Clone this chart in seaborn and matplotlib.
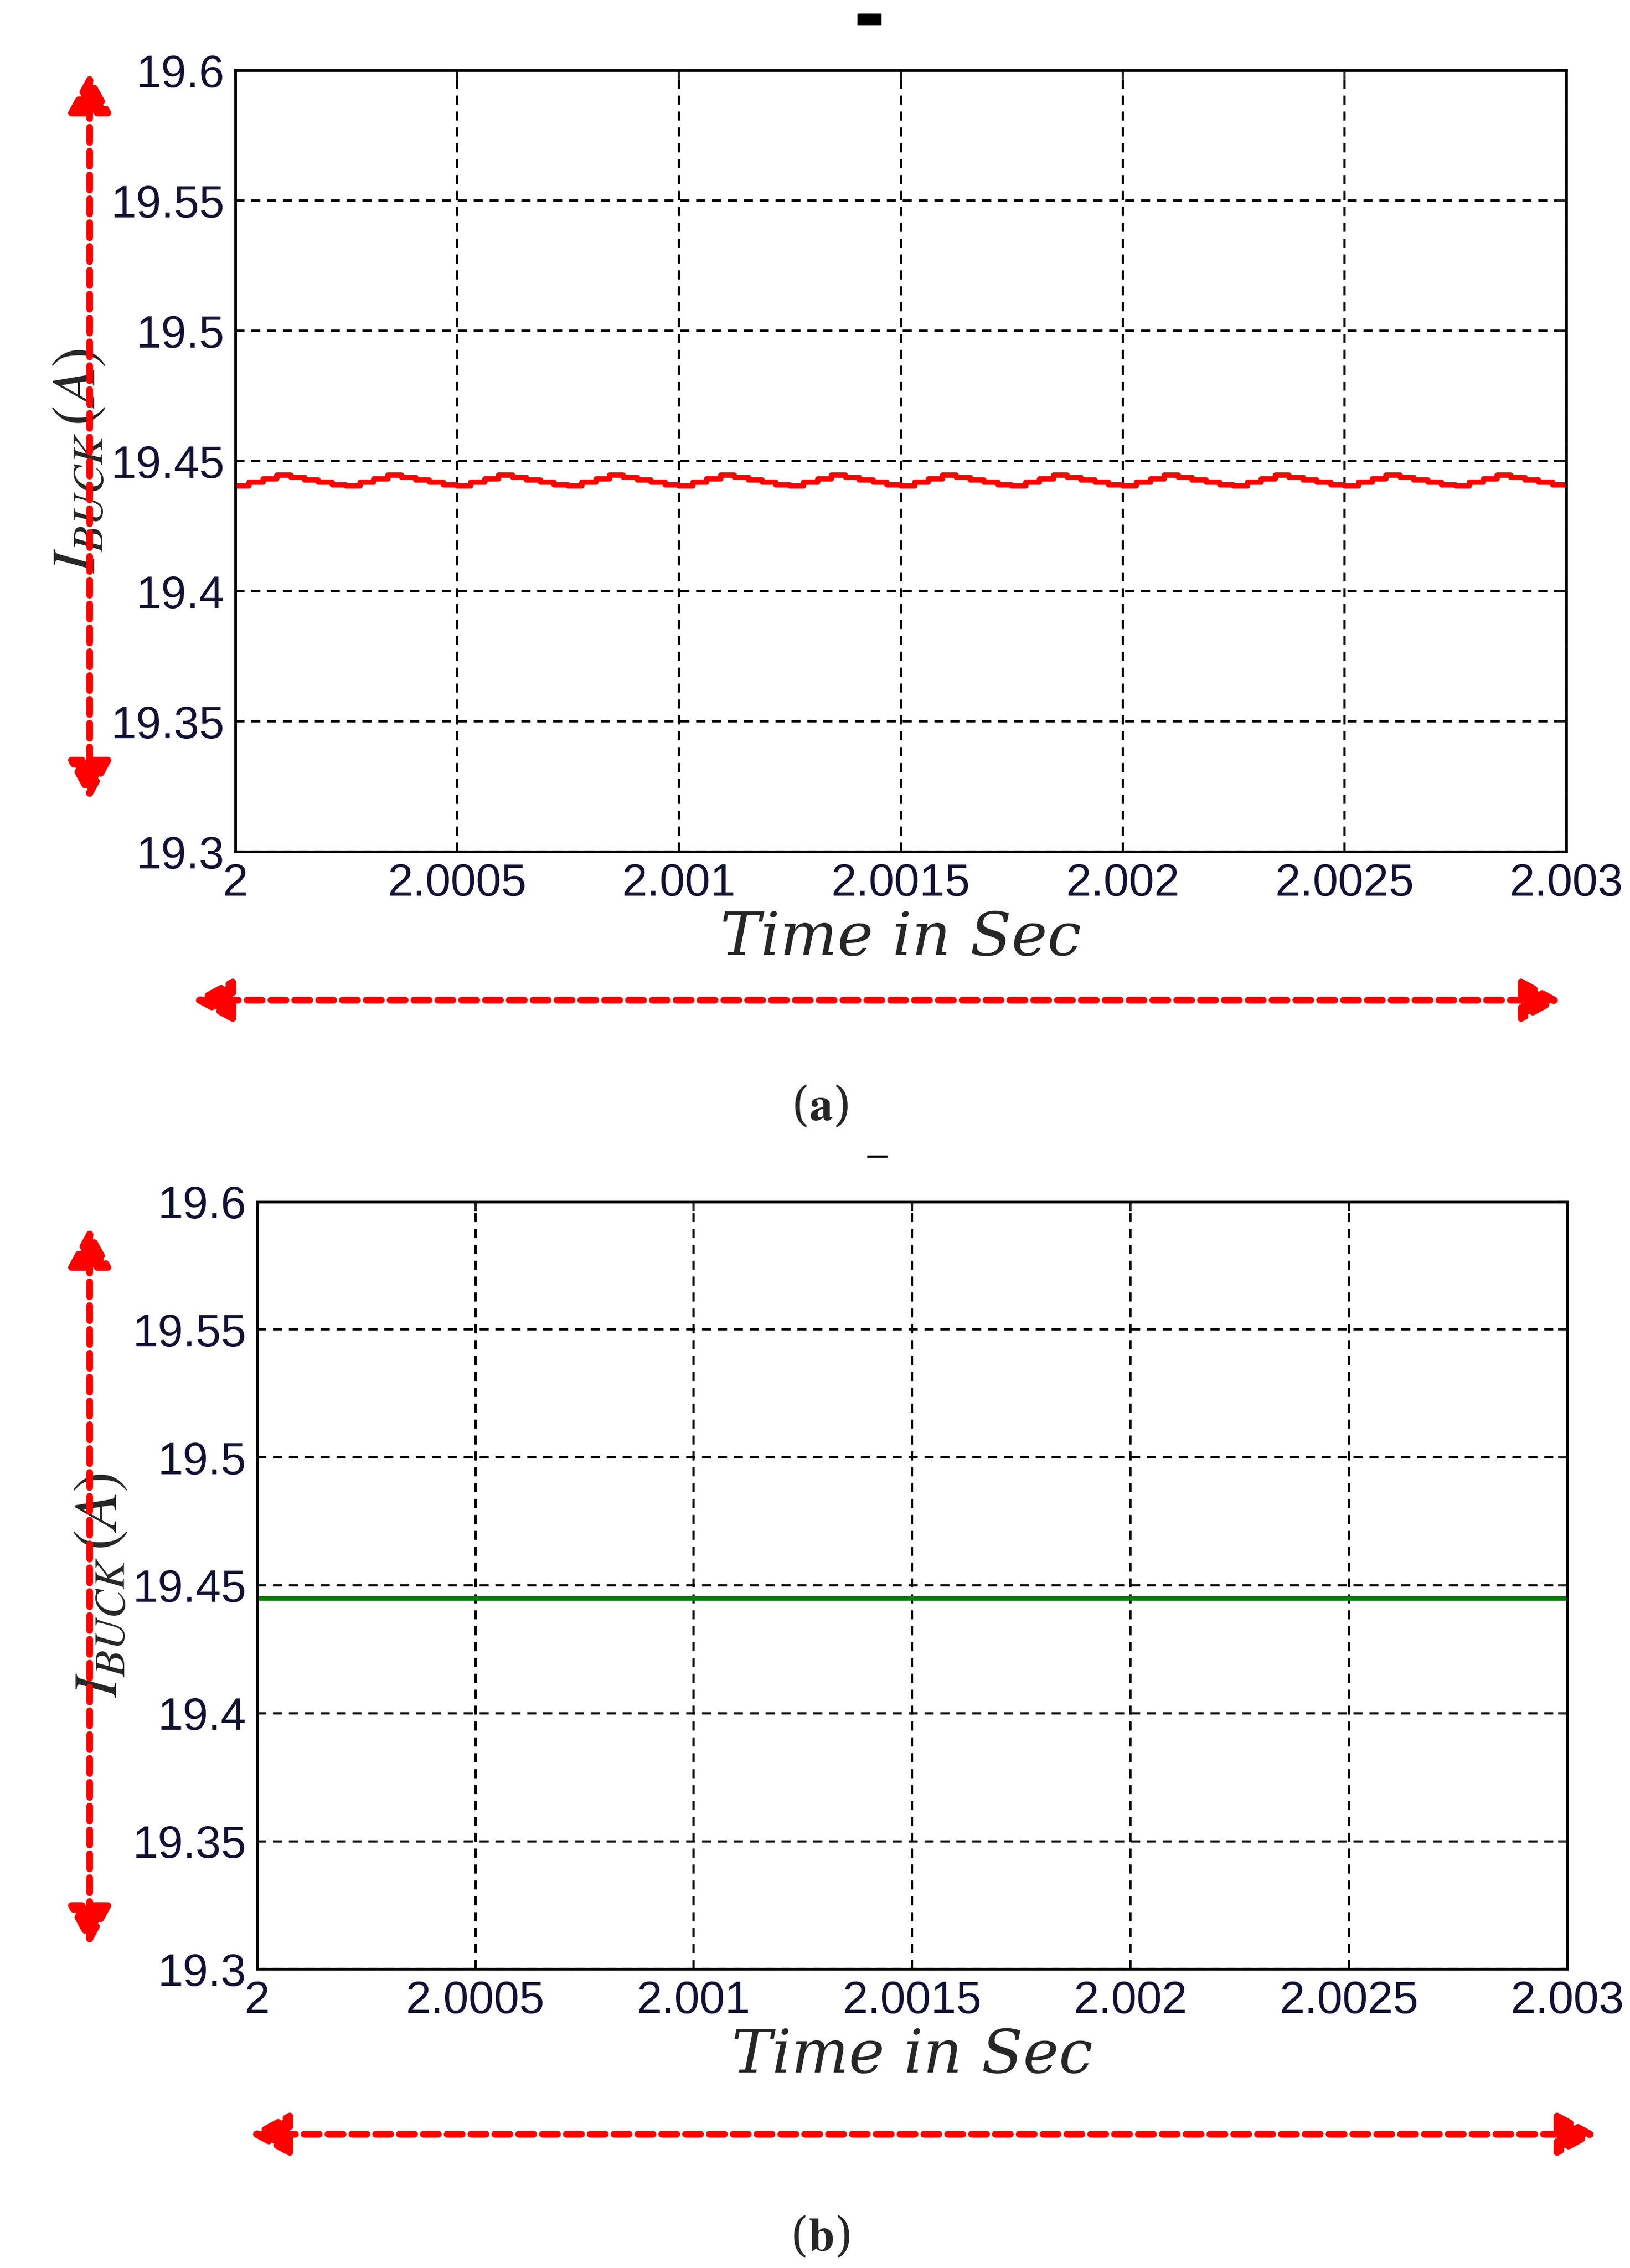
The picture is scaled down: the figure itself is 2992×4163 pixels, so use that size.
import numpy as np
import matplotlib
matplotlib.use("Agg")
import matplotlib.pyplot as plt
import seaborn as sns

# ------------------------------
# Data
# ------------------------------
t_start = 2.0
t_end = 2.003
ripple_period = 0.00025
# one ripple period of panel (a), stepped samples
ripple_a = [19.4405, 19.4418, 19.4432, 19.4446, 19.4438, 19.4428, 19.4418, 19.4408]
n_periods = 12
level_b = 19.4448

y_ticks = [19.3, 19.35, 19.4, 19.45, 19.5, 19.55, 19.6]
y_tick_labels = ["19.3", "19.35", "19.4", "19.45", "19.5", "19.55", "19.6"]
x_ticks = [2.0, 2.0005, 2.001, 2.0015, 2.002, 2.0025, 2.003]
x_tick_labels = ["2", "2.0005", "2.001", "2.0015", "2.002", "2.0025", "2.003"]

sns.set_style("white")
plt.rcParams["font.family"] = ["Liberation Sans", "DejaVu Sans"]
plt.rcParams["mathtext.fontset"] = "stix"

fig = plt.figure(figsize=(29.92, 41.63), dpi=100)
ax_a = fig.add_axes([0.1443, 0.6245, 0.8167, 0.3445])
ax_b = fig.add_axes([0.1576, 0.1318, 0.8041, 0.3384])

# panel a: stepped ripple
vals_a = np.tile(ripple_a, n_periods)
t_a = t_start + np.arange(len(vals_a)) * ripple_period / len(ripple_a)
t_a = np.append(t_a, t_end)
vals_a = np.append(vals_a, ripple_a[0])
ax_a.step(t_a, vals_a, where="post", color="red", lw=7)

# panel b: flat current
sns.lineplot(x=[t_start, t_end], y=[level_b, level_b], ax=ax_b, color="#008000", lw=6)

for ax in (ax_a, ax_b):
    ax.set_xlim(t_start, t_end)
    ax.set_ylim(19.3, 19.6)
    ax.set_xticks(x_ticks)
    ax.set_xticklabels(x_tick_labels)
    ax.set_yticks(y_ticks)
    ax.set_yticklabels(y_tick_labels)
    ax.tick_params(labelsize=60, length=12, width=3, direction="in", pad=14,
                   top=True, right=True, labelcolor="#111133")
    ax.grid(True, color="black", linestyle=(0, (4, 3)), lw=3)
    for s in ax.spines.values():
        s.set_linewidth(3.5)
        s.set_color("black")
    ax.set_xlabel("Time in Sec", fontsize=80, family="DejaVu Serif", style="italic", labelpad=6)
    ax.set_ylabel(r"$I_{BUCK}\,(A)$", fontsize=82, labelpad=4)

# red dotted double arrows
arrow_kw = dict(arrowstyle="<|-|>,head_length=2.2,head_width=1.2", color="red",
                lw=9, linestyle=(0, (2.2, 1.3)), shrinkA=0, shrinkB=0)
arrows = [((0.055, 0.968), (0.055, 0.647)),
          ((0.118, 0.559), (0.958, 0.559)),
          ((0.055, 0.459), (0.055, 0.142)),
          ((0.153, 0.059), (0.980, 0.059))]
for p0, p1 in arrows:
    fig.add_artist(matplotlib.patches.FancyArrowPatch(p0, p1, transform=fig.transFigure,
                                                       mutation_scale=20, **arrow_kw))

# small marks above panels
fig.add_artist(matplotlib.patches.Rectangle((0.526, 0.989), 0.0145, 0.005,
                                            transform=fig.transFigure, color="black"))
fig.add_artist(matplotlib.patches.Rectangle((0.532, 0.4898), 0.012, 0.0008,
                                            transform=fig.transFigure, color="black"))

# captions
fig.text(0.503, 0.512, r"($\mathbf{a}$)", fontsize=62, ha="center", va="center", family="DejaVu Serif")
fig.text(0.503, 0.0135, r"($\mathbf{b}$)", fontsize=62, ha="center", va="center", family="DejaVu Serif")

fig.savefig("out.png", dpi=100, facecolor="white")
